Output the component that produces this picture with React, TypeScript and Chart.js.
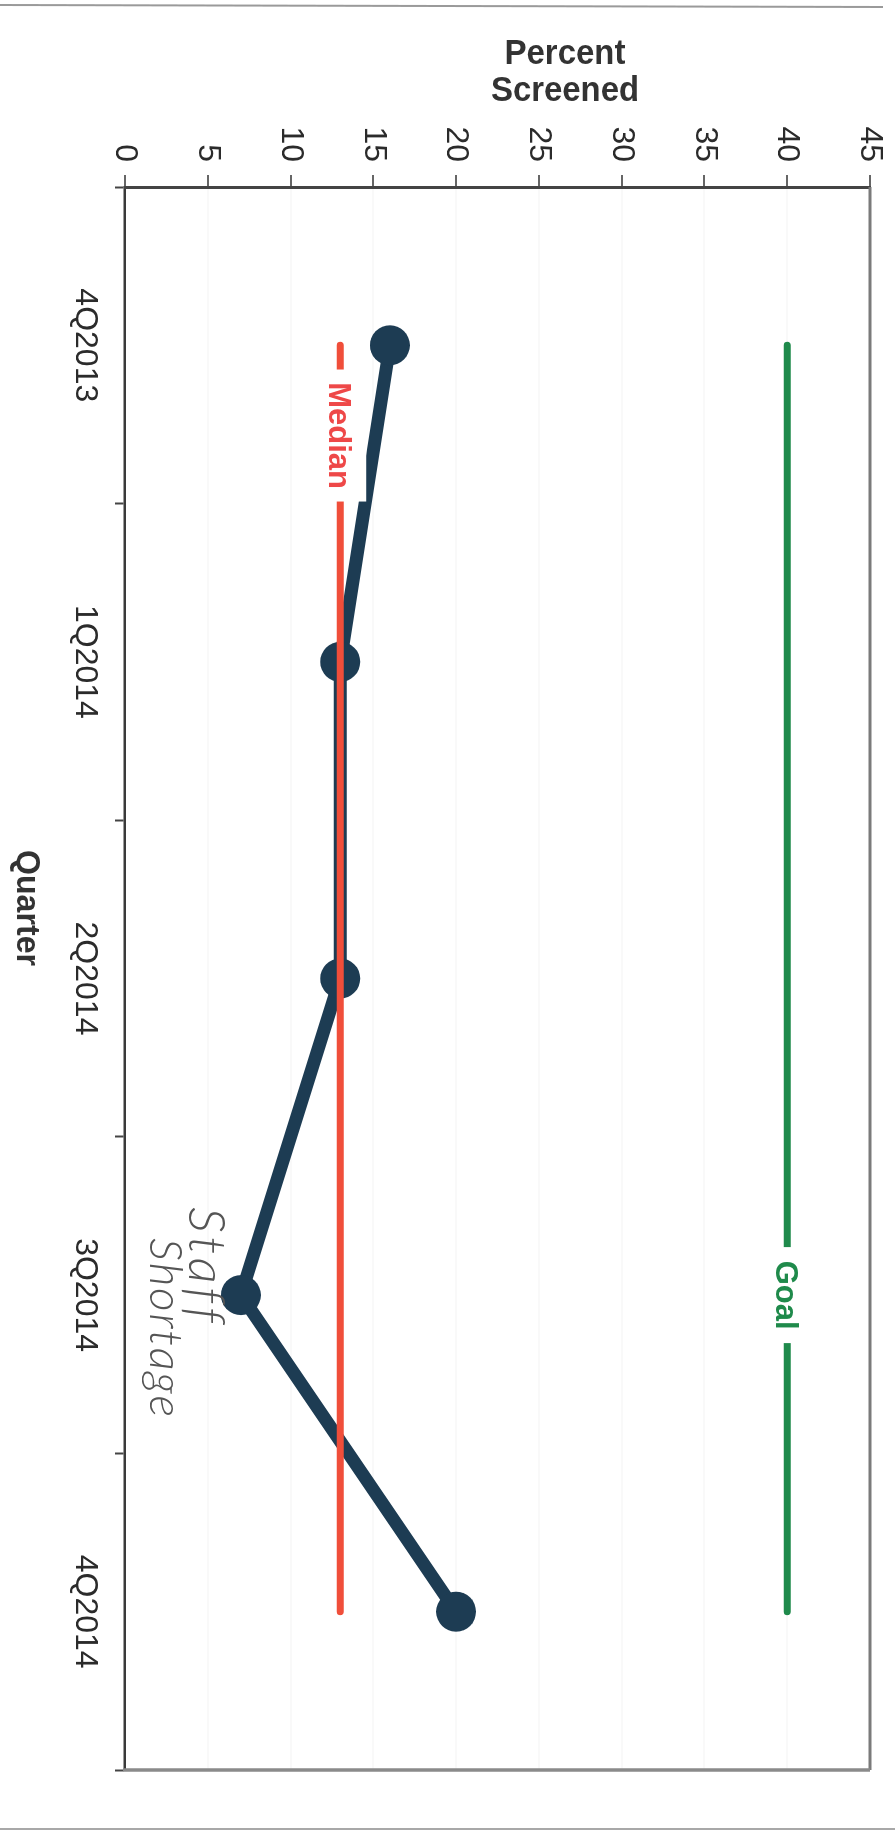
import React, { useEffect, useRef } from 'react';
import { Chart, registerables } from 'chart.js';

Chart.register(...registerables);

// Quarterly screening rate with its median and goal reference lines
const quarters = ['4Q2013', '1Q2014', '2Q2014', '3Q2014', '4Q2014'];
const percentScreened = [16, 13, 13, 7, 20];
const medianLine = [13, 13, 13, 13, 13];
const goalLine = [40, 40, 40, 40, 40];
const valueMin = 0;
const valueMax = 45;
const valueStep = 5;
const valueTitle = ['Percent', 'Screened'];
const quarterTitle = 'Quarter';
const medianLabel = 'Median';
const goalLabel = 'Goal';
const noteLines = ['Staff', 'Shortage'];

// The chart is laid out landscape and then turned a quarter clockwise on the page
const W = 1833;
const H = 895;

const NAVY = '#1d3c53';
const RED_LINE = '#f04e3a';
const RED_TEXT = '#ee4848';
const GREEN = '#1f8a4b';
const INK = '#2b2b2b';
const FONT = "'Liberation Sans', Arial, Helvetica, sans-serif";
const PEN = "Lato, 'DejaVu Sans', sans-serif";

Chart.defaults.font.family = FONT;

// Writes a word letter by letter so that it spans a given width, like loose handwriting
function spreadText(ctx: CanvasRenderingContext2D, text: string, x: number, y: number, width: number) {
  const widths = Array.from(text).map((ch) => ctx.measureText(ch).width);
  const natural = widths.reduce((a, b) => a + b, 0);
  const gap = text.length > 1 ? Math.max(0, (width - natural) / (text.length - 1)) : 0;
  let cx = x;
  Array.from(text).forEach((ch, i) => {
    ctx.fillText(ch, cx, y);
    cx += widths[i] + gap;
  });
}

const decorPlugin = {
  id: 'decor',
  beforeDraw(chart: any) {
    const { ctx } = chart;
    ctx.save();
    ctx.fillStyle = '#ffffff';
    ctx.fillRect(0, 0, W, H);
    // scanned page edges
    ctx.strokeStyle = '#9a9a9a';
    ctx.lineWidth = 2;
    ctx.beginPath();
    ctx.moveTo(5, H);
    ctx.lineTo(7, 12);
    ctx.stroke();
    ctx.strokeStyle = '#a8a8a8';
    ctx.beginPath();
    ctx.moveTo(1829, H);
    ctx.lineTo(1829, 0);
    ctx.stroke();
    ctx.restore();
  },
  afterDatasetsDraw(chart: any) {
    const { ctx, scales } = chart;
    const x = scales.x;
    const y = scales.y;

    const lineLabel = (
      text: string,
      at: number,
      value: number,
      color: string,
      halfLen: number,
      above: number,
      below: number,
    ) => {
      const cx = x.getPixelForValue(at);
      const cy = y.getPixelForValue(value);
      ctx.save();
      ctx.fillStyle = '#ffffff';
      ctx.fillRect(cx - halfLen, cy - above, halfLen * 2, above + below);
      ctx.font = `bold 31px ${FONT}`;
      ctx.fillStyle = color;
      ctx.textAlign = 'center';
      ctx.textBaseline = 'alphabetic';
      ctx.fillText(text, cx, cy + (31 * 0.716) / 2);
      ctx.restore();
    };
    lineLabel(medianLabel, 0.285, medianLine[0], RED_TEXT, 66, 26, 16);
    lineLabel(goalLabel, 3, goalLine[0], GREEN, 48, 20, 20);

    // pencil note next to the 3Q2014 dip
    ctx.save();
    ctx.fillStyle = '#555555';
    ctx.textAlign = 'left';
    ctx.textBaseline = 'alphabetic';
    ctx.font = `italic 300 52px ${PEN}`;
    spreadText(ctx, noteLines[0], 1207, 706, 116);
    ctx.font = `italic 300 46px ${PEN}`;
    spreadText(ctx, noteLines[1], 1238, 745, 179);
    ctx.restore();
  },
  afterDraw(chart: any) {
    const { ctx, chartArea } = chart;
    const { left, right, top, bottom } = chartArea;
    ctx.save();
    // outer frame on the far sides of the plot
    ctx.strokeStyle = '#7a7a7a';
    ctx.lineWidth = 3;
    ctx.beginPath();
    ctx.moveTo(left, top);
    ctx.lineTo(right, top);
    ctx.stroke();
    ctx.strokeStyle = '#8a8a8a';
    ctx.lineWidth = 3.5;
    ctx.beginPath();
    ctx.moveTo(right, top);
    ctx.lineTo(right, bottom + 2);
    ctx.stroke();

    // axis titles
    ctx.fillStyle = '#333333';
    ctx.font = `bold 35px ${FONT}`;
    ctx.textAlign = 'center';
    ctx.textBaseline = 'alphabetic';
    ctx.save();
    ctx.translate(64, 330);
    ctx.rotate(-Math.PI / 2);
    ctx.fillText(valueTitle[0], 0, 0, 121);
    ctx.restore();
    ctx.save();
    ctx.translate(101, 330);
    ctx.rotate(-Math.PI / 2);
    ctx.fillText(valueTitle[1], 0, 0, 148);
    ctx.restore();
    ctx.font = `bold 34px ${FONT}`;
    ctx.fillText(quarterTitle, 908, 878, 116);
    ctx.restore();
  },
};

export default function App() {
  const ref = useRef<HTMLCanvasElement>(null);

  useEffect(() => {
    if (!ref.current) return;
    const chart = new Chart(ref.current, {
      type: 'line',
      data: {
        labels: quarters,
        datasets: [
          {
            label: medianLabel,
            data: medianLine,
            borderColor: RED_LINE,
            borderWidth: 7,
            borderCapStyle: 'round',
            pointRadius: 0,
            tension: 0,
          },
          {
            label: goalLabel,
            data: goalLine,
            borderColor: GREEN,
            borderWidth: 7,
            borderCapStyle: 'round',
            pointRadius: 0,
            tension: 0,
          },
          {
            label: 'Percent Screened',
            data: percentScreened,
            borderColor: NAVY,
            backgroundColor: NAVY,
            borderWidth: 13,
            pointRadius: 20,
            pointBorderWidth: 0,
            pointBackgroundColor: NAVY,
            tension: 0,
          },
        ],
      },
      options: {
        animation: false,
        responsive: false,
        devicePixelRatio: 1,
        layout: { padding: { top: 25, right: 63, left: 0, bottom: 0 } },
        plugins: {
          legend: { display: false },
          tooltip: { enabled: false },
        },
        scales: {
          x: {
            type: 'category',
            offset: true,
            grid: {
              offset: true,
              drawOnChartArea: false,
              drawTicks: true,
              tickLength: 10,
              tickColor: '#444444',
              tickWidth: 2,
            },
            border: { display: true, color: '#3a3a3a', width: 2.5 },
            ticks: {
              color: INK,
              font: { size: 32 },
              padding: 11,
              maxRotation: 0,
              autoSkip: false,
            },
            afterFit: (s: any) => {
              s.height = 125;
              s.paddingLeft = 0;
              s.paddingRight = 0;
            },
          },
          y: {
            min: valueMin,
            max: valueMax,
            ticks: {
              stepSize: valueStep,
              color: INK,
              font: { size: 32 },
              padding: 13,
            },
            grid: {
              color: 'rgba(0,0,0,0.025)',
              lineWidth: 2,
              tickLength: 12,
              tickColor: '#666666',
              tickWidth: 2,
            },
            border: { display: true, color: '#444444', width: 3 },
            afterFit: (s: any) => {
              s.width = 187;
              s.paddingTop = 0;
              s.paddingBottom = 0;
            },
          },
        },
      },
      plugins: [decorPlugin],
    } as any);
    return () => chart.destroy();
  }, []);

  return (
    <div
      style={{
        position: 'fixed',
        left: 0,
        top: 0,
        width: H,
        height: W,
        overflow: 'hidden',
        background: '#ffffff',
      }}
    >
      <div
        style={{
          position: 'absolute',
          left: 0,
          top: 0,
          width: W,
          height: H,
          transformOrigin: '0 0',
          transform: `translate(${H}px, 0px) rotate(90deg)`,
        }}
      >
        <canvas ref={ref} width={W} height={H} style={{ display: 'block', width: W, height: H }} />
      </div>
    </div>
  );
}
